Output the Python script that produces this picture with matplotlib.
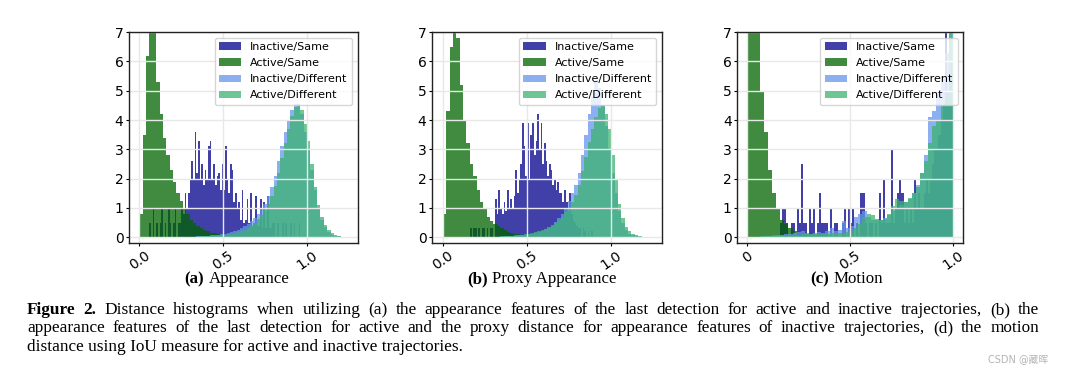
# Imports:
import numpy as np
import matplotlib.pyplot as plt

# Series names and colors:
LABELS = ['Inactive/Same', 'Active/Same', 'Inactive/Different', 'Active/Different']
COLORS = ['darkblue', 'darkgreen', 'cornflowerblue', 'mediumseagreen']

# Histogram bin widths:
FINE = 0.01
COARSE = 0.02

# (a) Appearance - densities per bin:
A_INACT_SAME = [0, 0, 0, 0, 0,
                0, 0.5, 0, 1.0, 0, 0.5, 0, 0.5, 1.0, 0, 0.5, 0, 1.0, 0.5, 0, 0.5, 1.0, 0, 0.5, 0.5,
                1.0, 0.8, 1.5, 1.0, 1.5, 2.0, 2.6, 2.0, 3.6, 2.2, 3.3, 2.0, 2.5, 1.8, 2.3, 2.0, 3.1, 3.3, 2.0, 2.5,
                1.8, 2.1, 2.2, 1.6, 2.5, 1.6, 3.1, 2.0, 1.5, 2.5, 2.3, 1.2, 1.5, 1.0, 1.2, 0.6, 1.6, 0.5, 0.6, 1.3,
                0.5, 1.5, 0.4, 0.5, 1.4, 0.4, 0.4, 1.3, 0.3, 1.2, 0.3, 1.4, 0.3, 0.3, 0.5,
                0.5, 0, 0.5, 0, 0, 0.5, 0, 0.5, 0, 0, 0.5, 0, 0.5, 0, 0, 0.5, 0, 0, 0, 0]
A_ACT_SAME = [0.8, 3.5, 6.2, 7.2, 7.0, 5.3, 4.2, 3.4, 2.8, 2.3, 1.9, 1.5, 1.25, 1.0, 0.8,
              0.6, 0.5, 0.4, 0.32, 0.25, 0.2, 0.16, 0.13, 0.1, 0.08, 0.06, 0.05, 0.04, 0.03, 0.02]
A_INACT_DIFF = [0.02, 0.02, 0.03, 0.03, 0.04, 0.05, 0.06, 0.07, 0.08, 0.1, 0.12, 0.14, 0.17, 0.2, 0.25,
                0.3, 0.37, 0.45, 0.55, 0.67, 0.8, 0.95, 1.15, 1.4, 1.7, 2.1, 2.6, 3.1, 3.6, 4.0,
                4.35, 4.55, 4.5, 4.2, 3.6, 3.0, 2.3, 1.6, 1.0, 0.6, 0.35, 0.18, 0.09, 0.05, 0.03, 0.02, 0.01]
A_ACT_DIFF = [0.02, 0.02, 0.02, 0.03, 0.03, 0.04, 0.05, 0.05, 0.06, 0.07, 0.08, 0.1, 0.12, 0.14, 0.17,
              0.21, 0.26, 0.32, 0.4, 0.5, 0.62, 0.76, 0.92, 1.15, 1.4, 1.75, 2.2, 2.7, 3.2, 3.7,
              4.15, 4.45, 4.55, 4.35, 3.85, 3.3, 2.5, 1.7, 1.1, 0.7, 0.42, 0.25, 0.13, 0.07, 0.04, 0.02, 0.01]

# (b) Proxy Appearance - densities per bin:
B_INACT_SAME = [0, 0, 0, 0, 0, 0, 0, 0, 0, 0, 0, 0, 0, 0, 0,
                0, 0.3, 0, 0.3, 0.3, 0, 0.3, 0, 0.3, 0.3, 0, 0.3, 0, 0.3, 0.3, 0,
                1.3, 0.8, 1.6, 1.0, 0.8, 1.2, 0.9, 1.6, 1.0, 1.3, 1.0, 1.4, 2.3, 1.5, 2.0, 2.5, 3.9, 3.1, 2.1, 3.9,
                2.0, 3.5, 3.9, 2.8, 3.3, 4.2, 3.0, 3.9, 2.5, 3.2, 2.6, 2.1, 2.5, 2.3, 1.8, 2.0, 1.6, 1.9, 1.5, 1.5,
                1.2, 1.6, 1.2, 0.9, 1.5, 0.8, 0.6, 0.5, 0.4, 0.3,
                0.3, 0, 0.3, 0.2, 0, 0.2, 0, 0.2, 0]
B_ACT_SAME = [0.8, 4.3, 6.5, 7.3, 6.8, 5.2, 4.0, 3.2, 2.5, 2.1, 1.6, 1.2, 0.95, 0.7, 0.55,
              0.45, 0.37, 0.3, 0.24, 0.19, 0.15, 0.12, 0.1, 0.08, 0.06, 0.05, 0.04, 0.03, 0.02, 0.02]
B_INACT_DIFF = [0.01, 0.02, 0.02, 0.03, 0.03, 0.04, 0.05, 0.06, 0.07, 0.08, 0.1, 0.12, 0.15, 0.18, 0.22,
                0.28, 0.34, 0.42, 0.52, 0.65, 0.8, 1.0, 1.25, 1.5, 1.8, 2.2, 2.8, 3.5, 4.2, 4.8,
                5.3, 5.1, 4.5, 3.8, 3.0, 2.2, 1.5, 0.9, 0.5, 0.25, 0.12, 0.06, 0.03, 0.02, 0.01, 0, 0]
B_ACT_DIFF = [0.02, 0.02, 0.03, 0.03, 0.04, 0.05, 0.06, 0.07, 0.08, 0.1, 0.12, 0.14, 0.17, 0.2, 0.24,
              0.28, 0.33, 0.4, 0.48, 0.58, 0.7, 0.85, 1.0, 1.2, 1.45, 1.8, 2.25, 2.75, 3.25, 3.7,
              4.1, 4.4, 4.5, 4.2, 3.7, 2.8, 2.0, 1.15, 0.65, 0.35, 0.2, 0.12, 0.06, 0.03, 0.02, 0.01, 0.01]

# (c) Motion - densities per bin:
C_INACT_SAME = [0, 0, 0, 0, 0, 0, 0, 0, 0, 0, 0, 0, 0, 0,
                0, 0, 0.5, 1.0, 1.0, 0.5, 0, 0.5, 0.5, 0, 1.0, 0.5, 2.5, 0.5, 0.5, 0,
                1.0, 0.5, 1.0, 0, 0.5, 1.5, 0.5, 0.5, 0.5, 0, 1.0, 0, 0.5, 0.5, 0, 0, 0.5, 1.0, 0, 1.0,
                0.5, 1.0, 0, 0.5, 0, 1.5, 1.5, 0.5, 0, 0.5, 0.5, 0, 0.5, 0, 1.5, 0.5, 2.0, 0.5, 0.5, 0.5,
                3.0, 0.5, 1.0, 1.5, 2.0, 1.5, 0.5, 1.0, 0.5, 1.0, 0.5, 2.0, 1.0, 1.5, 1.0,
                1.0, 1.5, 2.0, 1.5, 2.0, 2.5, 3.0, 3.0, 3.5, 4.0, 4.5, 7.5, 5.0, 5.5, 6.0]
C_ACT_SAME = [7.2, 7.5, 7.3, 5.0, 3.6, 2.3, 1.5, 1.0, 0.6, 0.45, 0.32, 0.22, 0.15, 0.12, 0.1,
              0.08, 0.07, 0.06, 0.05, 0.05, 0.04, 0.04, 0.03, 0.03, 0.03,
              0.02, 0.02, 0.02, 0.02, 0.02, 0.02, 0.02, 0.02, 0.02, 0.02, 0.02, 0.02, 0.02, 0.02, 0.02,
              0.01, 0.01, 0.01, 0.01, 0.01, 0.01, 0.01, 0.01, 0.01, 0.01]
C_INACT_DIFF = [0, 0, 0, 0.02, 0.03, 0.04, 0.05, 0.06, 0.08, 0.1, 0.12, 0.15, 0.18, 0.2, 0.15,
                0.12, 0.15, 0.18, 0.15, 0.2, 0.3, 0.2, 0.25, 0.55, 0.3, 0.4, 0.7, 0.8, 0.9, 0.7,
                0.6, 0.6, 0.6, 0.65, 0.75, 0.9, 1.0, 1.1, 1.2, 1.3, 1.5, 1.8, 2.2, 2.8, 4.1,
                4.3, 5.0, 5.5, 6.3, 7.5]
C_ACT_DIFF = [0, 0, 0.02, 0.03, 0.04, 0.05, 0.06, 0.06, 0.07, 0.07, 0.08, 0.08, 0.09, 0.1, 0.1,
              0.1, 0.1, 0.1, 0.12, 0.12, 0.13, 0.14, 0.15, 0.16, 0.18, 0.2, 0.3, 0.45, 0.7, 0.78,
              0.75, 0.62, 0.58, 0.62, 0.8, 1.05, 1.3, 1.25, 1.2, 1.35, 1.5, 1.7, 2.2, 2.6, 3.2,
              3.8, 4.0, 4.5, 4.8, 7.5]

# Sub-captions and figure caption:
SUBCAPTIONS = [('(a)', 'Appearance'), ('(b)', 'Proxy Appearance'), ('(c)', 'Motion')]
CAPTION = [
    'Distance histograms when utilizing (a) the appearance features of the last detection for active and inactive trajectories, (b) the',
    'appearance features of the last detection for active and the proxy distance for appearance features of inactive trajectories, (d) the motion',
    'distance using IoU measure for active and inactive trajectories.',
]

SERIF = 'Liberation Serif'


def subplot_hist(figure, rect, series, xlim, xticks, xticklabels):
    ax = figure.add_axes(rect)
    for (heights, start, width), label, color in zip(series, LABELS, COLORS):
        lefts = start + width * np.arange(len(heights))
        ax.bar(lefts, heights, width=width, align='edge', color=color, alpha=0.75,
               linewidth=0, label=label, antialiased=(width != FINE))
    ax.set_xlim(*xlim)
    ax.set_ylim(-0.2, 7.0)
    ax.set_yticks(range(8))
    ax.set_xticks(xticks)
    if xticklabels is not None:
        ax.set_xticklabels(xticklabels)
    ax.grid(color='#e8e8e8', linewidth=1.0)
    ax.tick_params(labelsize=10, length=2, width=0.8, pad=2)
    for spine in ax.spines.values():
        spine.set_color('#222222')
        spine.set_linewidth(1.0)
    plt.setp(ax.get_xticklabels(), rotation=35)
    ax.legend(loc='upper right', fontsize=8, labelspacing=0.55)
    return ax


def mixed_centered(figure, renderer, bold, normal, xc, y, size):
    # Bold tag followed by regular text, centered on xc:
    t1 = figure.text(0, y, bold, fontsize=size, fontweight='bold', family=SERIF, va='baseline')
    t2 = figure.text(0, y, normal, fontsize=size, family=SERIF, va='baseline')
    W = figure.bbox.width
    w1 = t1.get_window_extent(renderer).width
    w2 = t2.get_window_extent(renderer).width
    gap = size * 0.25 * figure.dpi / 72
    x = xc * W - (w1 + gap + w2) / 2
    t1.set_x(x / W)
    t2.set_x((x + w1 + gap) / W)


def justified(figure, renderer, words, y, x0, x1, size):
    # Spreads words evenly between x0 and x1:
    W = figure.bbox.width
    texts = [figure.text(0, y, w, fontsize=size, fontweight=wt, family=SERIF, va='baseline')
             for w, wt in words]
    widths = [t.get_window_extent(renderer).width for t in texts]
    gap = ((x1 - x0) * W - sum(widths)) / (len(texts) - 1)
    x = x0 * W
    for t, w in zip(texts, widths):
        t.set_x(x / W)
        x += w + gap


figure1 = plt.figure(figsize=(10.84, 3.74), dpi=100)
renderer = figure1.canvas.get_renderer()

rects = [[0.119, 0.350, 0.211, 0.564],
         [0.3985, 0.350, 0.212, 0.564],
         [0.680, 0.350, 0.2085, 0.564]]
panels = [
    [(A_INACT_SAME, 0.0, FINE), (A_ACT_SAME, 0.0, COARSE), (A_INACT_DIFF, 0.30, COARSE), (A_ACT_DIFF, 0.30, COARSE)],
    [(B_INACT_SAME, 0.0, FINE), (B_ACT_SAME, 0.0, COARSE), (B_INACT_DIFF, 0.30, COARSE), (B_ACT_DIFF, 0.30, COARSE)],
    [(C_INACT_SAME, 0.0, FINE), (C_ACT_SAME, 0.0, COARSE), (C_INACT_DIFF, 0.0, COARSE), (C_ACT_DIFF, 0.0, COARSE)],
]
xlims = [(-0.062, 1.302), (-0.065, 1.30), (-0.05, 1.05)]
ticklabels = [None, None, ['0', '0.5', '1.0']]
sub_centers = [0.2186, 0.5, 0.781]

for rect, series, xlim, tl, xc, (tag, name) in zip(rects, panels, xlims, ticklabels, sub_centers, SUBCAPTIONS):
    subplot_hist(figure1, rect, series, xlim, [0.0, 0.5, 1.0], tl)
    mixed_centered(figure1, renderer, tag, name, xc, 0.2433, 12.2)

# Caption (justified like the paper):
x0, x1 = 0.0249, 0.9585
line1 = [('Figure', 'bold'), ('2.', 'bold')] + [(w, 'normal') for w in CAPTION[0].split()]
line2 = [(w, 'normal') for w in CAPTION[1].split()]
justified(figure1, renderer, line1, 0.1604, x0, x1, 12.4)
justified(figure1, renderer, line2, 0.111, x0, x1, 12.4)
figure1.text(x0, 0.0615, CAPTION[2], fontsize=12.4, family=SERIF, va='baseline')

# Watermark:
figure1.text(0.967, 0.040, 'CSDN @藏晖', fontsize=7, color='#b4b4b4', ha='right', va='center',
             family=['DejaVu Sans', 'Noto Sans CJK SC'])

figure1.savefig('out.png', dpi=100)
